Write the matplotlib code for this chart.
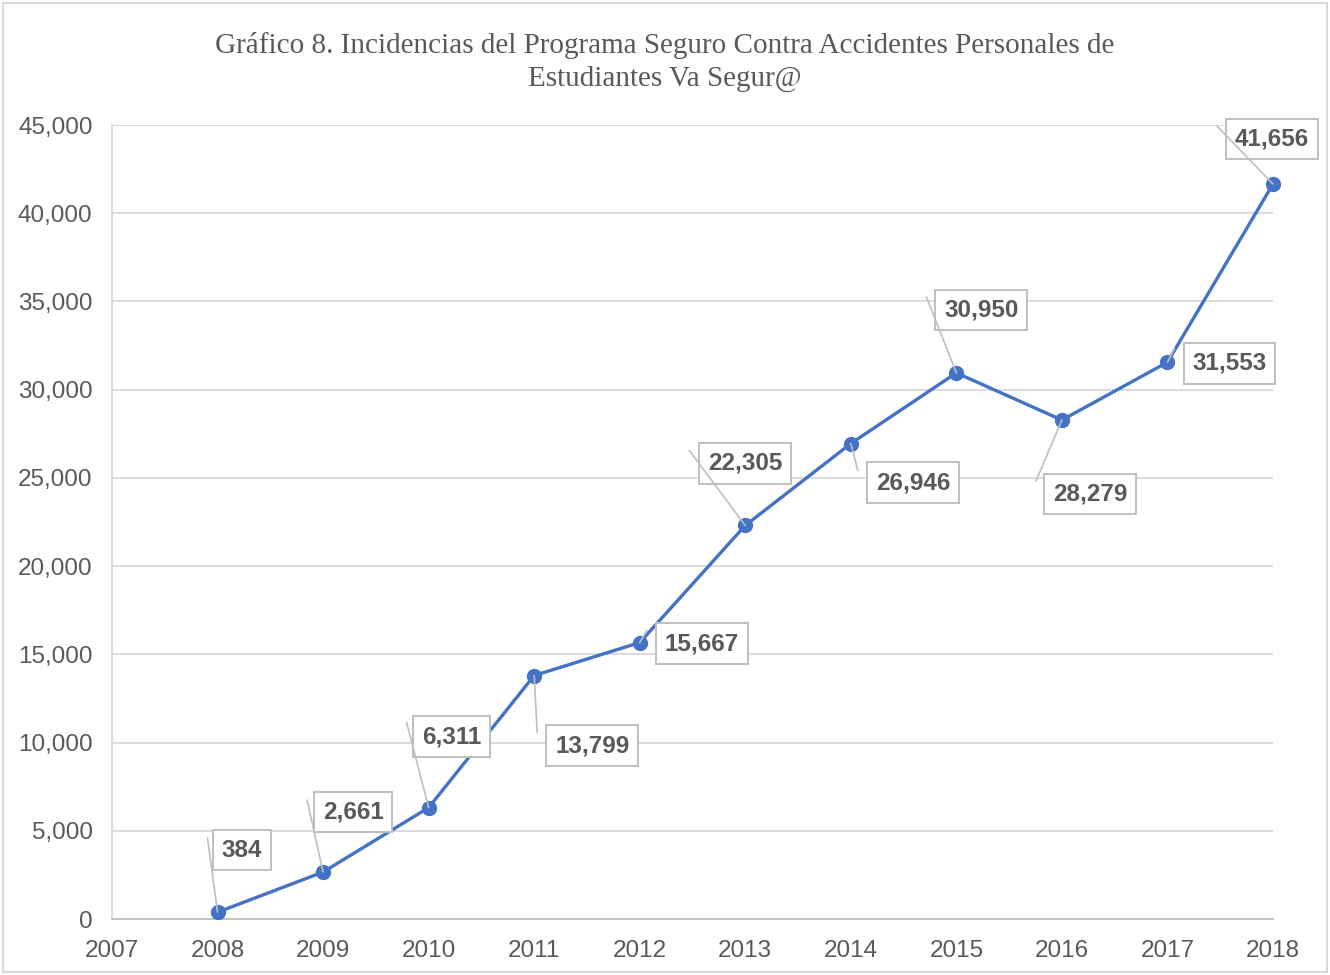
import matplotlib.pyplot as plt
import matplotlib.patches as patches
from matplotlib.ticker import FuncFormatter, MultipleLocator

years = [2008, 2009, 2010, 2011, 2012, 2013, 2014, 2015, 2016, 2017, 2018]
incidencias = [384, 2661, 6311, 13799, 15667, 22305, 26946, 30950, 28279, 31553, 41656]
# label offsets from each point, in pixels
label_dx = [24, 30, 23, 58, 62, 0, 62, 25, 28, 62, -1]
label_dy = [62, 60, 71, -70, -1, 62, -39, 63, -74, -1, 45]
# leader line end, offset from each point, in pixels
lead_dx = [-10, -16, -22, 3, 7, -56, 7, -30, -26, 7, -56]
lead_dy = [74, 72, 85, -57, 12, 75, -27, 76, -61, 14, 58]

title = 'Gráfico 8. Incidencias del Programa Seguro Contra Accidentes Personales de\nEstudiantes Va Segur@'

gray = '#595959'
blue = '#4472C4'

fig = plt.figure(figsize=(13.3, 9.75), dpi=100)
ax = fig.add_axes([112 / 1330, 1 - 919 / 975, (1273 - 112) / 1330, (919 - 125) / 975])

ax.plot(years, incidencias, color=blue, lw=2.4, marker='o', markersize=10,
        zorder=5, clip_on=False)

for x, y, dx, dy in zip(years, incidencias, label_dx, label_dy):
    ax.annotate(f'{y:,}', xy=(x, y), xytext=(dx, dy), textcoords='offset pixels',
                ha='center', va='center', fontsize=17.5, fontweight='bold',
                family='Liberation Sans', color=gray, zorder=6,
                bbox=dict(boxstyle='square,pad=0.36', fc='white', ec='#bfbfbf', lw=1.4))

for x, y, dx, dy in zip(years, incidencias, lead_dx, lead_dy):
    ax.annotate('', xy=(x, y), xytext=(dx, dy), textcoords='offset pixels', zorder=7,
                arrowprops=dict(arrowstyle='-', color='#bfbfbf', lw=1.2,
                                shrinkA=0, shrinkB=0))

ax.set_xlim(2007, 2018)
ax.set_ylim(0, 45000)
ax.xaxis.set_major_locator(MultipleLocator(1))
ax.yaxis.set_major_locator(MultipleLocator(5000))
ax.yaxis.set_major_formatter(FuncFormatter(lambda v, p: f'{int(v):,}'))
ax.grid(axis='y', color='#d9d9d9', lw=1.3)
ax.set_axisbelow(True)
for s in ['top', 'right']:
    ax.spines[s].set_visible(False)
ax.spines['left'].set_color('#d9d9d9')
ax.spines['bottom'].set_color('#bfbfbf')
ax.spines['left'].set_linewidth(1.3)
ax.spines['bottom'].set_linewidth(1.3)
ax.tick_params(length=0, labelsize=17.5, labelcolor=gray)
ax.tick_params(axis='x', pad=15)
ax.tick_params(axis='y', pad=14)
for lab in ax.get_xticklabels() + ax.get_yticklabels():
    lab.set_family('Liberation Sans')

fig.text(0.5, 1 - 62 / 975, title, ha='center', va='center', fontsize=21,
         family='Liberation Serif', color=gray, linespacing=1.3)

fig.patches.append(patches.Rectangle((3 / 1330, 3 / 975), 1 - 6 / 1330, 1 - 6 / 975,
                                     transform=fig.transFigure, fill=False,
                                     ec='#d9d9d9', lw=1.5))

fig.savefig('out.png', dpi=100)
